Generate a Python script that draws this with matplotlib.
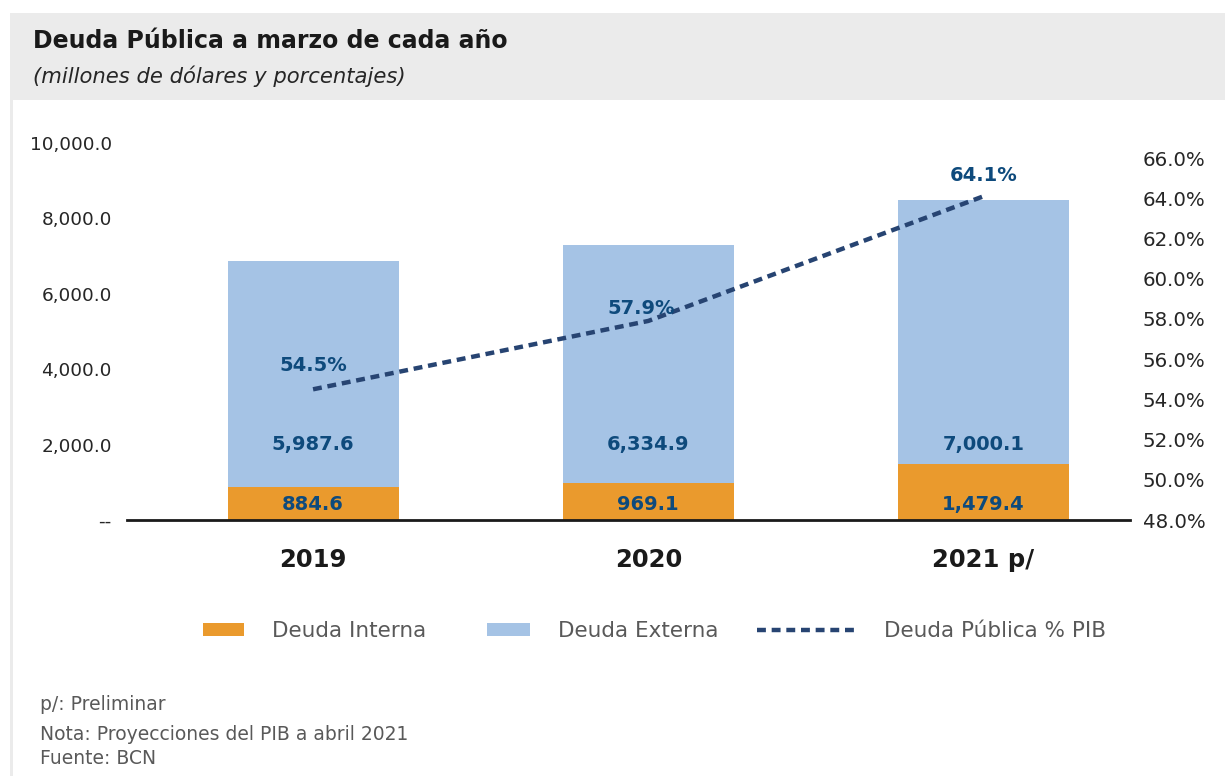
import matplotlib.pyplot as plt
from matplotlib.patches import Rectangle, Patch
from matplotlib.lines import Line2D
from matplotlib.ticker import FuncFormatter, MultipleLocator

years = ["2019", "2020", "2021 p/"]
interna = [884.6, 969.1, 1479.4]
externa = [5987.6, 6334.9, 7000.1]
pib_pct = [54.5, 57.9, 64.1]

c_int = "#EA9A2D"
c_ext = "#A5C3E5"
c_line = "#274472"
c_lab = "#0E4A7C"
c_txt = "#595959"

fig = plt.figure(figsize=(12.25, 7.76), dpi=100)
W, H = 1225, 776

# background frame
fig.patches.append(Rectangle((10 / W, 0), 1 - 10 / W, 1 - 13 / H, transform=fig.transFigure,
                             facecolor="#EBEBEB", edgecolor="none", zorder=-3))
fig.patches.append(Rectangle((13 / W, 0), 1 - 13 / W, 1 - 100 / H, transform=fig.transFigure,
                             facecolor="white", edgecolor="none", zorder=-2))

fig.text(33 / W, 1 - 41 / H, "Deuda Pública a marzo de cada año", fontsize=17,
         fontweight="bold", color="#1a1a1a", va="center")
fig.text(33 / W, 1 - 76 / H, "(millones de dólares y porcentajes)", fontsize=15.2,
         style="italic", color="#262626", va="center")

ax = fig.add_axes([127 / W, 1 - 520 / H, 1003 / W, 377 / H])
x = list(range(len(years)))
bw = 0.51
ax.bar(x, interna, bw, color=c_int, zorder=2)
ax.bar(x, externa, bw, bottom=interna, color=c_ext, zorder=2)
ax.set_xlim(-0.555, 2.437)
ax.set_ylim(0, 10000)
ax.yaxis.set_major_locator(MultipleLocator(2000))
ax.yaxis.set_major_formatter(FuncFormatter(lambda v, p: "--" if v == 0 else f"{v:,.1f}"))
ax.tick_params(axis="y", length=0, pad=11, labelsize=13.3, labelcolor="#262626")
ax.set_xticks(x)
ax.set_xticklabels(years, fontsize=17.5, fontweight="bold", color="#1a1a1a")
ax.tick_params(axis="x", length=0, pad=20)
for s in ["top", "right", "left"]:
    ax.spines[s].set_visible(False)
ax.spines["bottom"].set_color("#1a1a1a")
ax.spines["bottom"].set_linewidth(2)
ax.spines["bottom"].set_zorder(5)

for i in x:
    ax.text(i, 400, f"{interna[i]:,.1f}", ha="center", va="center", fontsize=14,
            fontweight="bold", color=c_lab, zorder=4)
    ax.text(i, 2000, f"{externa[i]:,.1f}", ha="center", va="center", fontsize=14,
            fontweight="bold", color=c_lab, zorder=4)

ax2 = ax.twinx()
ax2.set_ylim(48, 66.75)
ax2.yaxis.set_major_locator(MultipleLocator(2))
ax2.yaxis.set_major_formatter(FuncFormatter(lambda v, p: f"{v:.1f}%"))
ax2.tick_params(axis="y", length=0, pad=9, labelsize=14.2, labelcolor="#262626")
for s in ax2.spines.values():
    s.set_visible(False)
ax2.plot(x, pib_pct, color=c_line, lw=3.2, dashes=[2.0, 1.3], zorder=3)
offs = [(0, 17), (-5, 9), (0, 15)]
for i in x:
    ax2.annotate(f"{pib_pct[i]:.1f}%", (i, pib_pct[i]), xytext=offs[i], textcoords="offset points",
                 ha="center", va="center", fontsize=14, fontweight="bold", color=c_lab)

# legend entries
leg_items = [
    (Patch(facecolor=c_int), "Deuda Interna", 203, 1.9),
    (Patch(facecolor=c_ext), "Deuda Externa", 487, 2.0),
    (Line2D([], [], color=c_line, lw=3.2, dashes=[2.0, 1.3]), "Deuda Pública % PIB", 757, 4.6),
]
for h, lab, px, hl in leg_items:
    lg = fig.legend([h], [lab], loc="center left", bbox_to_anchor=(px / W, 1 - 631 / H),
                    frameon=False, borderpad=0, borderaxespad=0, handlelength=hl,
                    handleheight=0.6, handletextpad=1.3, prop={"size": 15.5})
    for t in lg.get_texts():
        t.set_color(c_txt)

fig.text(40 / W, 1 - 704 / H, "p/: Preliminar", fontsize=13.5, color=c_txt, va="center")
fig.text(40 / W, 1 - 735 / H, "Nota: Proyecciones del PIB a abril 2021", fontsize=13.5,
         color=c_txt, va="center")
fig.text(40 / W, 1 - 759 / H, "Fuente: BCN", fontsize=13.5, color=c_txt, va="center")

fig.savefig("out.png", dpi=100)
